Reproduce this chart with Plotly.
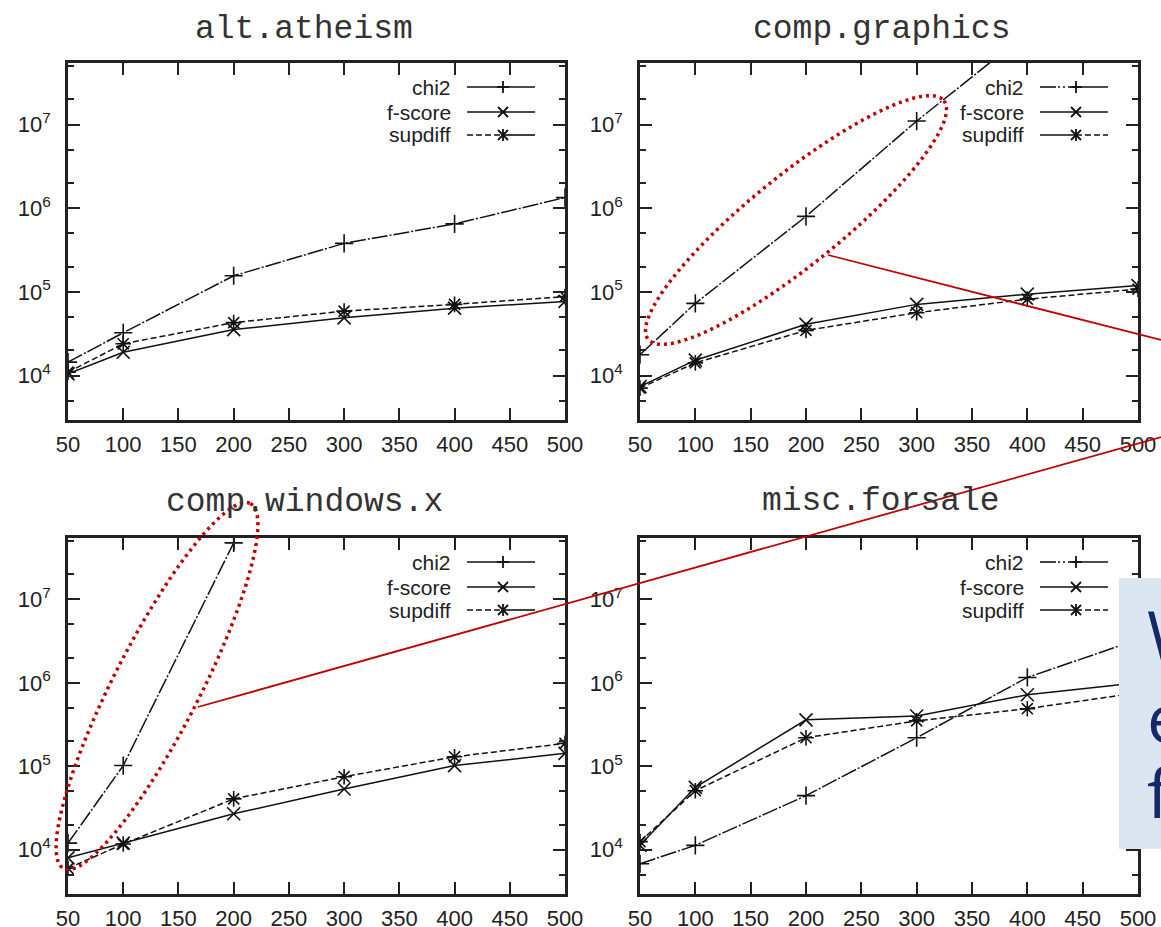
import math
import plotly.graph_objects as go

W, H = 1161, 927

# ---------------- data ----------------
feature_counts = [50, 100, 200, 300, 400, 500]
x_tick_vals = [50, 100, 150, 200, 250, 300, 350, 400, 450, 500]
y_major_vals = [1e4, 1e5, 1e6, 1e7]
y_major_text = ["10<sup>4</sup>", "10<sup>5</sup>", "10<sup>6</sup>", "10<sup>7</sup>"]
y_minor_vals = [5e3, 2e4, 5e4, 2e5, 5e5, 2e6, 5e6, 2e7, 5e7]
series_names = ["chi2", "f-score", "supdiff"]
panel_titles = ["alt.atheism", "comp.graphics", "comp.windows.x", "misc.forsale"]

atheism_chi2 = [1.45e4, 3.25e4, 1.56e5, 3.8e5, 6.5e5, 1.34e6]
atheism_fscore = [1.05e4, 1.9e4, 3.55e4, 4.9e4, 6.4e4, 7.7e4]
atheism_supdiff = [1.1e4, 2.4e4, 4.3e4, 5.9e4, 7.1e4, 8.8e4]

graphics_chi2 = [1.78e4, 7.3e4, 8.0e5, 1.1e7, 1.25e8, 1.2e9]
graphics_fscore = [7.4e3, 1.53e4, 4.1e4, 7.1e4, 9.4e4, 1.19e5]
graphics_supdiff = [7.1e3, 1.42e4, 3.47e4, 5.65e4, 8.2e4, 1.08e5]

windows_chi2 = [1.2e4, 1.02e5, 4.75e7, None, None, None]
windows_fscore = [8.0e3, 1.2e4, 2.7e4, 5.35e4, 1.02e5, 1.43e5]
windows_supdiff = [6.0e3, 1.17e4, 4.07e4, 7.5e4, 1.3e5, 1.88e5]

forsale_chi2 = [6.8e3, 1.13e4, 4.45e4, 2.2e5, 1.16e6, 3.3e6]
forsale_fscore = [1.13e4, 5.6e4, 3.6e5, 4.0e5, 7.2e5, 1.0e6]
forsale_supdiff = [1.25e4, 5.1e4, 2.2e5, 3.5e5, 4.9e5, 7.6e5]

panel_series = [
    [atheism_chi2, atheism_fscore, atheism_supdiff],
    [graphics_chi2, graphics_fscore, graphics_supdiff],
    [windows_chi2, windows_fscore, windows_supdiff],
    [forsale_chi2, forsale_fscore, forsale_supdiff],
]

# ---------------- layout geometry (screen pixels) ----------------
panel_boxes = [  # left, right, top, bottom
    (68, 565, 63, 420),
    (640, 1138, 63, 420),
    (68, 565, 538, 894),
    (640, 1138, 538, 894),
]
title_pos = [(304, 30), (881, 30), (304, 502), (881, 501)]
legend_variant = ["A", "B", "A", "B"]


def px_x(p):
    return p / W


def px_y(p):
    return 1 - p / H


line_dashes = ["16px,2px,2px,2px", "solid", "6px,3px"]
symbols = ["cross-thin", "x-thin", "asterisk"]

fig = go.Figure()
layout = dict(
    width=W, height=H, margin=dict(l=0, r=0, t=0, b=0, autoexpand=False),
    paper_bgcolor="white", plot_bgcolor="white", showlegend=False,
)

tick_font = dict(family="Liberation Sans, Arial, sans-serif", size=22, color="#222")

for i, (box, series) in enumerate(zip(panel_boxes, panel_series), start=1):
    L, R, T, B = box
    xa = "x" if i == 1 else f"x{i}"
    ya = "y" if i == 1 else f"y{i}"
    layout[f"xaxis{i}"] = dict(
        domain=[px_x(L), px_x(R)], range=[50, 500], anchor=ya, automargin=False,
        tickmode="array", tickvals=x_tick_vals, ticks="inside", ticklen=12,
        tickwidth=2, tickcolor="#222", mirror="allticks", showline=True,
        linewidth=2.5, linecolor="#222", showgrid=False, zeroline=False,
        tickfont=tick_font, ticklabelstandoff=3,
    )
    layout[f"yaxis{i}"] = dict(
        domain=[px_y(B), px_y(T)], type="log", range=[3.47, 7.735], anchor=xa,
        automargin=False,
        tickmode="array", tickvals=y_major_vals, ticktext=y_major_text,
        ticks="inside", ticklen=12, tickwidth=2, tickcolor="#222",
        mirror="allticks", showline=True, linewidth=2.5, linecolor="#222",
        showgrid=False, zeroline=False, tickfont=tick_font, ticklabelstandoff=10,
        minor=dict(tickmode="array", tickvals=y_minor_vals, ticks="inside",
                   ticklen=6, tickwidth=2, tickcolor="#222", showgrid=False),
    )
    for name, vals, dash, sym in zip(series_names, series, line_dashes, symbols):
        fig.add_trace(go.Scatter(
            x=feature_counts, y=vals, name=name, mode="lines+markers",
            xaxis=xa, yaxis=ya, connectgaps=False,
            line=dict(color="#111", width=1.5, dash=dash),
            marker=dict(symbol=sym, size=13, color="#111",
                        line=dict(color="#111", width=1.6)),
        ))

shapes = []
annotations = []

# titles
for t, (tx, ty) in zip(panel_titles, title_pos):
    annotations.append(dict(
        text=t, x=px_x(tx), y=px_y(ty), xref="paper", yref="paper",
        xanchor="center", yanchor="middle", showarrow=False,
        font=dict(family="Liberation Mono, Courier New, monospace", size=33, color="#333"),
    ))


def seg(x0, y0, x1, y1, color="#111", width=1.6, dash="solid"):
    return dict(type="line", xref="paper", yref="paper",
                x0=px_x(x0), y0=px_y(y0), x1=px_x(x1), y1=px_y(y1),
                line=dict(color=color, width=width, dash=dash), layer="above")


legend_rows = [24, 49, 72]
for box, variant in zip(panel_boxes, legend_variant):
    L, R, T, B = box
    for k, (name, row) in enumerate(zip(series_names, legend_rows)):
        yy = T + row
        annotations.append(dict(
            text=name, x=px_x(R - 112), y=px_y(yy), xref="paper", yref="paper",
            xanchor="right", yanchor="middle", showarrow=False,
            font=dict(family="Liberation Sans, Arial, sans-serif", size=21, color="#222"),
        ))
        x0, xm, x1 = R - 98, R - 62, R - 30
        if k == 0:
            if variant == "A":
                shapes.append(seg(x0, yy, x1, yy))
            else:
                shapes.append(seg(x0, yy, x0 + 16, yy))
                shapes.append(seg(x0 + 18, yy, xm - 4, yy, dash="2px,3px"))
                shapes.append(seg(xm - 4, yy, x1, yy))
        elif k == 1:
            shapes.append(seg(x0, yy, x1, yy))
        else:
            if variant == "A":
                shapes.append(seg(x0, yy, xm, yy, dash="6px,3px"))
                shapes.append(seg(xm, yy, x1, yy))
            else:
                shapes.append(seg(x0, yy, xm, yy))
                shapes.append(seg(xm, yy, x1, yy, dash="6px,3px"))
        # marker glyph in the sample
        if k in (0, 2):
            shapes.append(seg(xm, yy - 6, xm, yy + 6, width=1.8))
        if k == 0:
            shapes.append(seg(xm - 6, yy, xm + 6, yy, width=1.8))
        if k in (1, 2):
            shapes.append(seg(xm - 5, yy - 5, xm + 5, yy + 5, width=1.8))
            shapes.append(seg(xm - 5, yy + 5, xm + 5, yy - 5, width=1.8))


# red dotted ellipses (slide annotations)
def ellipse_path(cx, cy, a, b, theta_deg, n=120):
    th = math.radians(theta_deg)
    ux, uy = math.cos(th), -math.sin(th)
    nx, ny = math.sin(th), math.cos(th)
    pts = []
    for j in range(n + 1):
        t = 2 * math.pi * j / n
        px = cx + a * math.cos(t) * ux + b * math.sin(t) * nx
        py = cy + a * math.cos(t) * uy + b * math.sin(t) * ny
        pts.append((px_x(px), px_y(py)))
    d = "M " + " L ".join(f"{x:.5f},{y:.5f}" for x, y in pts) + " Z"
    return d


red = "#C00000"
for cx, cy, a, b, th in [(796, 220, 190, 45, 38.9), (157, 686, 205, 43, 62.9)]:
    shapes.append(dict(type="path", xref="paper", yref="paper",
                       path=ellipse_path(cx, cy, a, b, th),
                       line=dict(color=red, width=3.5, dash="3px,4px"),
                       fillcolor="rgba(0,0,0,0)", layer="above"))

shapes.append(seg(828, 255, 1161, 340, color=red, width=1.8))
shapes.append(seg(198, 707, 1161, 437, color=red, width=1.8))

# partially visible slide text box on the right
shapes.append(dict(type="rect", xref="paper", yref="paper",
                   x0=px_x(1119), x1=px_x(1200), y0=px_y(849), y1=px_y(578),
                   fillcolor="#DCE6F2", line=dict(width=0), layer="above"))
for letter, cy in [("W", 633), ("e", 716), ("f", 791)]:
    annotations.append(dict(
        text=letter, x=px_x(1145), y=px_y(cy), xref="paper", yref="paper",
        xanchor="left", yanchor="middle", showarrow=False,
        font=dict(family="Open Sans, Noto Sans, sans-serif", size=68, color="#12296B"),
    ))

layout["shapes"] = shapes
layout["annotations"] = annotations
fig.update_layout(**layout)

# remove the page's default body margin / scrollbars so the figure sits at (0, 0)
page_fix = ("document.documentElement.style.overflow='hidden';"
            "document.body.style.margin='0';document.body.style.overflow='hidden';")
fig.write_html("out.html", post_script=page_fix, config={"displayModeBar": False})
